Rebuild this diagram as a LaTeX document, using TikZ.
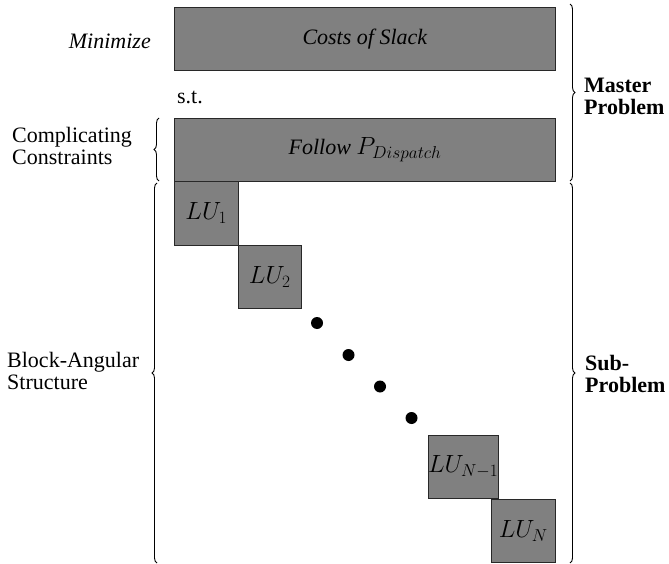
\documentclass[tikz,border=0pt]{standalone}
\usepackage{fontspec}
\setmainfont{Liberation Serif}
\usetikzlibrary{decorations.pathreplacing}
\definecolor{blkfill}{RGB}{128,128,128}
\definecolor{blkline}{RGB}{40,40,40}
\begin{document}
\begin{tikzpicture}[x=1pt,y=-1pt,
  every node/.style={font=\fontsize{22}{22}\selectfont},
  blk/.style={draw=blkline, fill=blkfill, line width=1pt, inner sep=0pt, anchor=north west},
  wide/.style={blk, minimum width=381pt, minimum height=63pt},
  sq/.style={blk, minimum width=63.5pt, minimum height=63.5pt, font=\fontsize{24}{24}\selectfont},
  lbl/.style={align=left, inner sep=0pt},
  rbrace/.style={decorate, decoration={brace, amplitude=5pt}, line width=0.9pt},
  lbrace/.style={decorate, decoration={brace, mirror, amplitude=5pt}, line width=0.9pt},
  dot/.style={circle, fill=black, inner sep=0pt, minimum size=12pt}]
\useasboundingbox (0,0) rectangle (669,564);
% boxes
\node[wide] (cost) at (174,7) {\textit{Costs of Slack}};
\node[wide] (follow) at (174,118) {\textit{Follow} {\fontsize{24}{24}\selectfont$P_{Dispatch}$}};
\node[sq] (lu1) at (174,181) {$LU_1$};
\node[sq] (lu2) at (237.5,244.5) {$LU_2$};
\node[sq] (lun1) at (427.5,434.5) {$LU_{N-1}$};
\node[sq] (lun) at (491,498.5) {$LU_N$};
% dots
\node[dot] (d1) at (317,323) {};
\node[dot] (d2) at (348.5,355) {};
\node[dot] (d3) at (380,386.5) {};
\node[dot] (d4) at (411.5,418) {};
% left labels
\node[lbl, anchor=east] (minim) at (151,41) {\textit{Minimize}};
\node[lbl] (st) at (190,97) {s.t.};
\node[lbl, anchor=west] (comp) at (12,146) {Complicating\\Constraints};
\node[lbl, anchor=west] (ba) at (7,371) {Block-Angular\\Structure};
% right labels
\node[lbl, anchor=west, font=\fontsize{22}{22}\selectfont\bfseries] (master) at (584,96) {Master\\Problem};
\node[lbl, anchor=west, font=\fontsize{22}{22}\selectfont\bfseries] (sub) at (585,374) {Sub-\\Problem};
% braces
\coordinate (mt) at (570,4);
\coordinate (mb) at (570,181);
\coordinate (st1) at (570,183);
\coordinate (sb) at (570,563);
\draw[rbrace] (mt) -- (mb);
\draw[rbrace] (st1) -- (sb);
\coordinate (ct) at (159,118);
\coordinate (cb) at (159,181);
\coordinate (bt) at (157,183);
\coordinate (bb) at (157,563);
\draw[lbrace] (ct) -- (cb);
\draw[lbrace] (bt) -- (bb);
\end{tikzpicture}
\end{document}
